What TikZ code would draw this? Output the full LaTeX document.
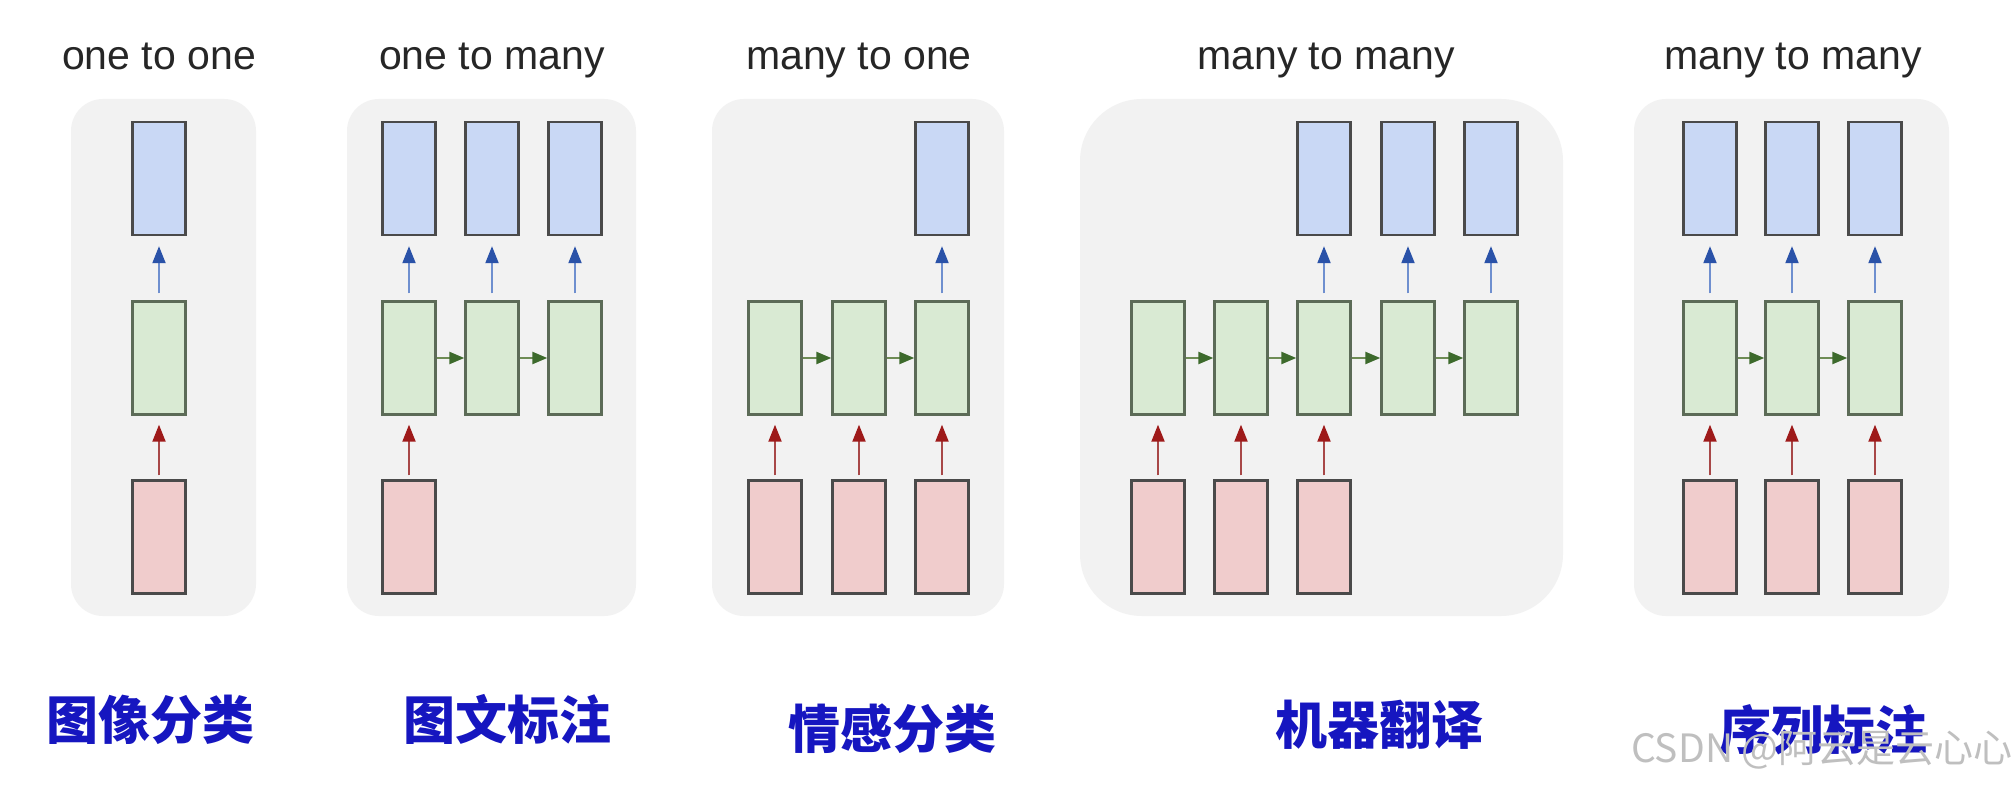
\documentclass[tikz,border=0pt]{standalone}
\usepackage{fontspec}
\setmainfont{Liberation Sans}
\newfontfamily\cjk{Noto Sans CJK SC}
\usetikzlibrary{arrows.meta}
\definecolor{panelbg}{HTML}{F2F2F2}
\definecolor{bluefill}{HTML}{C9D8F5}
\definecolor{greenfill}{HTML}{D9EAD3}
\definecolor{redfill}{HTML}{F0CCCC}
\definecolor{boxline}{HTML}{4A4A4A}
\definecolor{greenline}{HTML}{5C6B57}
\definecolor{bluearr}{HTML}{6F8FCF}
\definecolor{bluehead}{HTML}{2A52A8}
\definecolor{redarr}{HTML}{A84848}
\definecolor{redhead}{HTML}{9E1A1A}
\definecolor{greenarr}{HTML}{6E8C55}
\definecolor{greenhead}{HTML}{3D6A2C}
\definecolor{labelblue}{HTML}{1616C0}
\tikzset{
  cell/.style={draw, line width=2.4pt, minimum width=53pt, minimum height=113pt, inner sep=0pt},
  bluebox/.style={cell, draw=boxline, fill=bluefill},
  greenbox/.style={cell, draw=greenline, fill=greenfill},
  redbox/.style={cell, draw=boxline, fill=redfill},
  panel/.style={fill=panelbg, rounded corners=32pt},
  uparrowblue/.style={draw=bluearr, line width=2pt, -{Triangle[length=17pt,width=13pt,color=bluehead]}},
  uparrowred/.style={draw=redarr, line width=2pt, -{Triangle[length=17pt,width=13pt,color=redhead]}},
  rightarrow/.style={draw=greenarr, line width=2.4pt, -{Triangle[length=15pt,width=12pt,color=greenhead]}},
  title/.style={font=\fontsize{41}{48}\selectfont, text=black!85, anchor=base, inner sep=0pt},
  cnlabel/.style={font=\cjk\bfseries\fontsize{52}{60}\selectfont, text=labelblue, inner sep=0pt}
}
\begin{document}
\begin{tikzpicture}[x=1pt,y=-1pt]
\useasboundingbox (0,0) rectangle (2016,786);
\fill[white] (0,0) rectangle (2016,786);
% panels
\fill[panel] (71,99) rectangle (256,616);
\fill[panel] (347,99) rectangle (636,616);
\fill[panel] (712,99) rectangle (1004,616);
\fill[panel, rounded corners=62pt] (1080,99) rectangle (1563,616);
\fill[panel] (1634,99) rectangle (1949,616);
% titles
\node[title] (t1) at (159,70) {one to one};
\node[title] (t2) at (492,70) {one to many};
\node[title] (t3) at (859,70) {many to one};
\node[title] (t4) at (1326,70) {many to many};
\node[title] (t5) at (1793,70) {many to many};
% ---- panel 1
\node[bluebox] (b11) at (159,178.5) {};
\node[greenbox] (g11) at (159,358) {};
\node[redbox] (r11) at (159,537) {};
\draw[uparrowblue] ([yshift=7pt]g11.north) -- ([yshift=-10pt]b11.south);
\draw[uparrowred] ([yshift=4pt]r11.north) -- ([yshift=-9pt]g11.south);
% ---- panel 2
\foreach \i/\x in {1/409,2/492,3/575}{
  \node[bluebox] (b2\i) at (\x,178.5) {};
  \node[greenbox] (g2\i) at (\x,358) {};
  \draw[uparrowblue] ([yshift=7pt]g2\i.north) -- ([yshift=-10pt]b2\i.south);
}
\node[redbox] (r21) at (409,537) {};
\draw[uparrowred] ([yshift=4pt]r21.north) -- ([yshift=-9pt]g21.south);
\draw[rightarrow] (g21.east) -- (g22.west);
\draw[rightarrow] (g22.east) -- (g23.west);
% ---- panel 3
\foreach \i/\x in {1/775,2/859,3/942}{
  \node[greenbox] (g3\i) at (\x,358) {};
  \node[redbox] (r3\i) at (\x,537) {};
  \draw[uparrowred] ([yshift=4pt]r3\i.north) -- ([yshift=-9pt]g3\i.south);
}
\node[bluebox] (b33) at (942,178.5) {};
\draw[uparrowblue] ([yshift=7pt]g33.north) -- ([yshift=-10pt]b33.south);
\draw[rightarrow] (g31.east) -- (g32.west);
\draw[rightarrow] (g32.east) -- (g33.west);
% ---- panel 4
\foreach \i/\x in {1/1158,2/1241,3/1324,4/1408,5/1491}{
  \node[greenbox] (g4\i) at (\x,358) {};
}
\foreach \i/\x in {1/1158,2/1241,3/1324}{
  \node[redbox] (r4\i) at (\x,537) {};
  \draw[uparrowred] ([yshift=4pt]r4\i.north) -- ([yshift=-9pt]g4\i.south);
}
\foreach \i/\x in {3/1324,4/1408,5/1491}{
  \node[bluebox] (b4\i) at (\x,178.5) {};
  \draw[uparrowblue] ([yshift=7pt]g4\i.north) -- ([yshift=-10pt]b4\i.south);
}
\draw[rightarrow] (g41.east) -- (g42.west);
\draw[rightarrow] (g42.east) -- (g43.west);
\draw[rightarrow] (g43.east) -- (g44.west);
\draw[rightarrow] (g44.east) -- (g45.west);
% ---- panel 5
\foreach \i/\x in {1/1710,2/1792,3/1875}{
  \node[bluebox] (b5\i) at (\x,178.5) {};
  \node[greenbox] (g5\i) at (\x,358) {};
  \node[redbox] (r5\i) at (\x,537) {};
  \draw[uparrowblue] ([yshift=7pt]g5\i.north) -- ([yshift=-10pt]b5\i.south);
  \draw[uparrowred] ([yshift=4pt]r5\i.north) -- ([yshift=-9pt]g5\i.south);
}
\draw[rightarrow] (g51.east) -- (g52.west);
\draw[rightarrow] (g52.east) -- (g53.west);
% Chinese labels
\node[cnlabel] (c1) at (150,720) {图像分类};
\node[cnlabel] (c2) at (507,719) {图文标注};
\node[cnlabel] (c3) at (892,729) {情感分类};
\node[cnlabel] (c4) at (1379,725) {机器翻译};
\node[cnlabel] (c5) at (1823,730) {序列标注};
% watermark
\node[font=\cjk\fontsize{39}{42}\selectfont, text=gray!50, anchor=east, inner sep=0pt] (wm) at (2013,750) {CSDN @阿云是云心心};
\end{tikzpicture}
\end{document}
